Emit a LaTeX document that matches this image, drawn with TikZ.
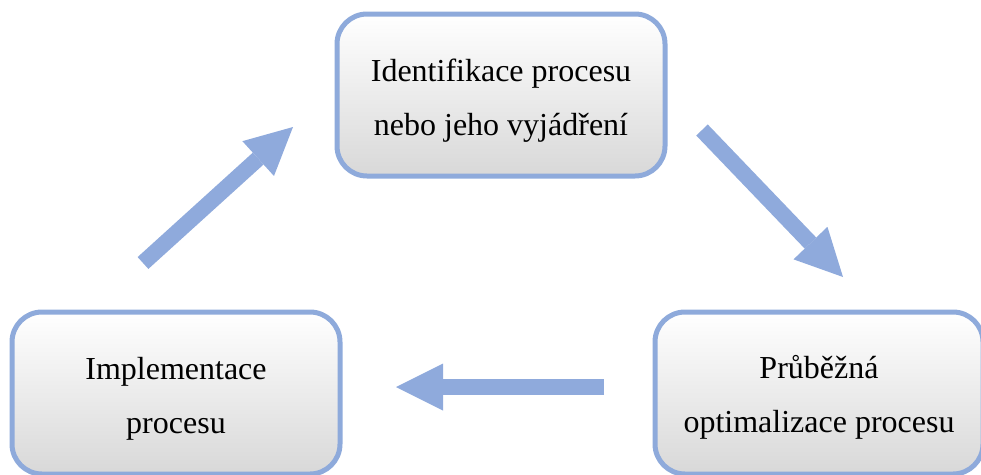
\documentclass[tikz,border=0pt]{standalone}
\usepackage{fontspec}
\setmainfont{Liberation Serif}
\usetikzlibrary{arrows.meta}

\definecolor{frameblue}{RGB}{142,170,219}
\definecolor{flowblue}{RGB}{143,170,220}
\definecolor{shadegray}{RGB}{216,216,216}

\tikzset{
  stagebox/.style={
    draw=frameblue, line width=5pt, rounded corners=30pt,
    top color=white, bottom color=shadegray,
    minimum width=328pt, minimum height=162pt, inner sep=0pt
  },
  stagetext/.style={
    align=center, inner sep=0pt,
    font=\fontsize{32}{54}\selectfont
  },
  flow/.style={
    draw=flowblue, line width=16pt,
    -{Triangle[length=47pt,width=47pt,line width=0pt]}
  }
}

\begin{document}
\begin{tikzpicture}[x=1pt,y=-1pt]
  \useasboundingbox (0,0) rectangle (981,474);
  \clip (0,0) rectangle (981,474);

  % the three stages of the cycle
  \node[stagebox] (ident) at (501,95)  {};
  \node[stagebox] (impl)  at (176,393) {};
  \node[stagebox] (optim) at (819,393) {};

  \node[stagetext] (identtxt) at ([yshift=-5.5pt]ident.center) {Identifikace procesu\\nebo jeho vyjádření};
  \node[stagetext] (impltxt)  at ([yshift=-5.5pt]impl.center)  {Implementace\\procesu};
  \node[stagetext] (optimtxt) at ([yshift=-4pt]optim.center) {Průběžná\\optimalizace procesu};

  % arrow ends between the stages
  \coordinate (upfrom)   at (143,263);
  \coordinate (upto)     at (293,127);
  \coordinate (downfrom) at (702,130);
  \coordinate (downto)   at (843,277);
  \coordinate (backfrom) at (604,387);
  \coordinate (backto)   at (396,387);

  \draw[flow] (upfrom) -- (upto);
  \draw[flow] (downfrom) -- (downto);
  \draw[flow] (backfrom) -- (backto);
\end{tikzpicture}
\end{document}
